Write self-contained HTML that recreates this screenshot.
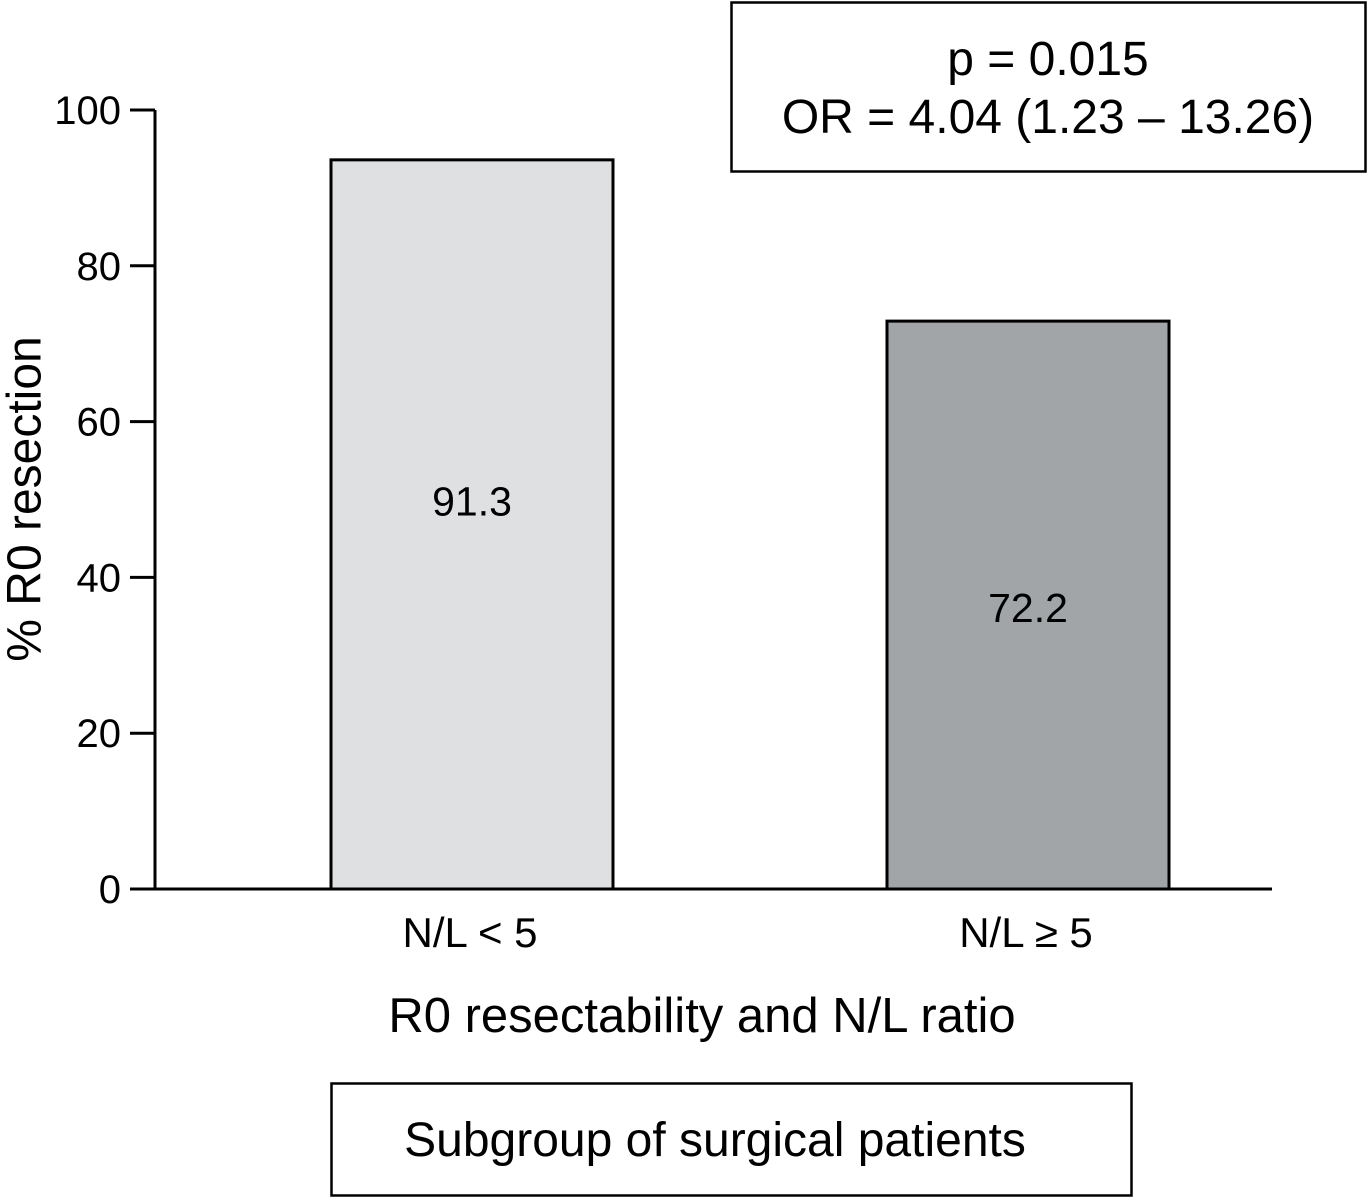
<!DOCTYPE html>
<html><head><meta charset="utf-8"><style>
html,body{margin:0;padding:0;background:#fff;}
svg{display:block;font-family:"Liberation Sans",Arial,sans-serif;}
</style></head><body>
<svg id="chart" width="1367" height="1198" viewBox="0 0 1367 1198">
<g id="axes"></g><g id="bars"></g>
<text x="28" y="499" font-size="48" text-anchor="middle" dominant-baseline="middle" transform="rotate(-90 28 499)">% R0 resection</text>
<text x="702" y="1032" font-size="49" text-anchor="middle">R0 resectability and N/L ratio</text>
<rect x="731.5" y="2.5" width="634" height="169" fill="none" stroke="#000" stroke-width="2.5"/>
<text x="1048" y="75" font-size="48" text-anchor="middle">p = 0.015</text>
<text x="1048" y="133" font-size="48" text-anchor="middle">OR = 4.04 (1.23 – 13.26)</text>
<rect x="331.5" y="1083.5" width="800" height="112" fill="none" stroke="#000" stroke-width="2.5"/>
<text x="715" y="1156" font-size="48" text-anchor="middle">Subgroup of surgical patients</text>
</svg>
<script>
const categories = ["N/L < 5", "N/L \u2265 5"];
const values = [93.6, 72.9];
const valueLabels = ["91.3", "72.2"];
const yTicks = [0, 20, 40, 60, 80, 100];
const fills = ["#dfe0e2", "#a2a5a8"];
const NS = "http://www.w3.org/2000/svg";
const y0 = 889, y100 = 110, xL = 155, xR = 1272;
const yScale = v => y0 - (y0 - y100) * v / 100;
const centers = [472, 1028], barW = 282;
const labelOffsets = [-24, 2];
const xScale = i => centers[i];
function mk(tag, attrs, parent, txt) {
  const e = document.createElementNS(NS, tag);
  for (const k in attrs) e.setAttribute(k, attrs[k]);
  if (txt !== undefined) e.textContent = txt;
  parent.appendChild(e); return e;
}
const axes = document.getElementById("axes"), bars = document.getElementById("bars");
let a = mk("line", {x1: xL, y1: y0, x2: xR, y2: y0, stroke: "#000", "stroke-width": 3}, axes);


a = mk("line", {x1: xL, y1: y0 + 1.5, x2: xL, y2: y100, stroke: "#000", "stroke-width": 3}, axes);


yTicks.forEach(t => {
  const y = yScale(t);
  const l = mk("line", {x1: 130, y1: y, x2: xL, y2: y, stroke: "#000", "stroke-width": 3}, axes);
  
  
  const tx = mk("text", {x: 121, y: y + 14, "font-size": 40, "text-anchor": "end"}, axes, String(t));
  
  
});
categories.forEach((c, i) => {
  const cx = xScale(i), top = yScale(values[i]);
  const r = mk("rect", {x: cx - barW / 2, y: top, width: barW, height: y0 - top, fill: fills[i], stroke: "#000", "stroke-width": 3}, bars);
  
  
  const vl = mk("text", {x: cx, y: (top + y0) / 2 + 15 + labelOffsets[i], "font-size": 41, "text-anchor": "middle"}, bars, valueLabels[i]);
  
  
  const cl = mk("text", {x: cx - 2, y: 947, "font-size": 42, "text-anchor": "middle"}, bars, c);
  
  
});
</script>
</body></html>
